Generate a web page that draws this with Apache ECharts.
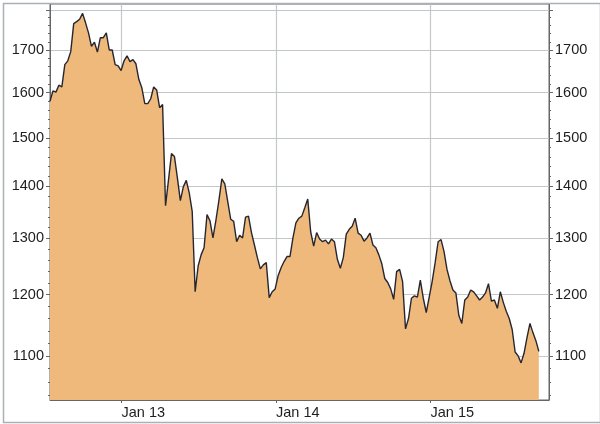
<!DOCTYPE html>
<html>
<head>
<meta charset="utf-8">
<script src="https://cdn.jsdelivr.net/npm/echarts@6/dist/echarts.min.js"></script>
<style>
html,body{margin:0;padding:0;background:#fff;}
#chart{width:600px;height:424px;}
</style>
</head>
<body>
<div id="chart"></div>
<script>
// Weekly closing values, first week starting 2012-07-16
const startDate = [2012, 6, 16];
const weekStepDays = 7;
const values = [
 1580,1604,1601,1617,1613,1665,1674,1696,1765,1770,
 1776,1791,1767,1742,1709,1719,1695,1730,1730,1742,
 1700,1700,1665,1662,1651,1674,1686,1672,1677,1667,
 1630,1611,1575,1575,1586,1613,1606,1566,1573,1362,
 1413,1467,1461,1417,1372,1399,1412,1387,1351,1205,
 1250,1270,1283,1345,1333,1301,1334,1372,1415,1405,
 1370,1336,1332,1294,1306,1301,1340,1342,1311,1288,
 1265,1245,1252,1256,1195,1205,1210,1233,1247,1258,
 1267,1267,1301,1329,1338,1342,1358,1375,1312,1286,
 1311,1299,1294,1297,1290,1299,1294,1262,1246,1265,
 1308,1317,1323,1338,1310,1306,1295,1301,1310,1288,
 1283,1270,1254,1228,1221,1210,1192,1240,1244,1223,
 1143,1160,1194,1198,1196,1225,1194,1170,1196,1223,
 1256,1294,1298,1276,1244,1224,1208,1203,1165,1152,
 1191,1196,1208,1205,1198,1191,1196,1203,1219,1189,
 1191,1177,1205,1187,1172,1160,1142,1106,1100,1089,
 1104,1129,1152,1137,1124,1107
];
const xTickDates = [[2013,0,1],[2014,0,1],[2015,0,1]];
const xTickLabels = ['Jan 13','Jan 14','Jan 15'];
const xRange = [[2012,6,16],[2015,9,8]];
const yMajorTicks = [1100,1200,1300,1400,1500,1600,1700,1800];
const yLabelTicks = [1100,1200,1300,1400,1500,1600,1700];
const yMinorTicks = [1040,1060,1080,1120,1140,1160,1180,1220,1240,1260,1280,1320,1340,1360,1380,1420,1440,1460,1480,1520,1540,1560,1580,1620,1640,1660,1680,1720,1740,1760,1780];
const yRange = [1033, 1815];

const toTime = a => Date.UTC(a[0], a[1], a[2]);
const t0 = toTime(startDate);
const DAY = 86400000;
const seriesData = values.map((v, i) => [t0 + i * weekStepDays * DAY, v]);
const xTickTimes = xTickDates.map(toTime);

const gridColor = '#c3c7ca';
const axisColor = '#666';
const labelStyle = {fontFamily: 'Liberation Sans, Arial, sans-serif', fontSize: 14.5, color: '#1e1e1e'};

function yAxisBase(pos, major) {
  return {
    type: 'log', logBase: 10, position: pos, min: yRange[0], max: yRange[1],
    axisLine: {show: major, lineStyle: {color: axisColor, width: 1}},
    axisTick: {show: true, inside: false, length: major ? 4 : 2,
      customValues: major ? yMajorTicks : yMinorTicks,
      lineStyle: {color: axisColor, width: 1}},
    axisLabel: major ? Object.assign({show: true, margin: 6, customValues: yLabelTicks,
      formatter: v => String(Math.round(v))}, labelStyle) : {show: false},
    splitLine: {show: major && pos === 'left', lineStyle: {color: gridColor, width: 1.2}},
    minorTick: {show: false}, minorSplitLine: {show: false}
  };
}

const chart = echarts.init(document.getElementById('chart'), null, {renderer: 'canvas'});
chart.setOption({
  animation: false,
  backgroundColor: '#fff',
  grid: {left: 50, right: 51, top: 4, bottom: 24, show: true, borderColor: axisColor, borderWidth: 1, backgroundColor: 'transparent'},
  xAxis: {
    type: 'value', min: toTime(xRange[0]), max: toTime(xRange[1]),
    axisLine: {show: true, lineStyle: {color: axisColor}},
    axisTick: {show: true, length: 3, customValues: xTickTimes, lineStyle: {color: axisColor}},
    axisLabel: Object.assign({show: true, align: 'left', margin: 5, customValues: xTickTimes,
      formatter: v => { const k = xTickTimes.indexOf(v); return k >= 0 ? xTickLabels[k] : ''; }}, labelStyle),
    splitLine: {show: true, lineStyle: {color: gridColor, width: 1.2}},
    minorTick: {show: false}
  },
  yAxis: [yAxisBase('left', true), yAxisBase('right', true), yAxisBase('left', false), yAxisBase('right', false)],
  series: [{
    type: 'line', yAxisIndex: 0, data: seriesData, showSymbol: false, symbol: 'none',
    lineStyle: {color: '#262630', width: 1.4},
    areaStyle: {color: '#efb97b', opacity: 1, origin: 'start'}
  }],
  graphic: [{
    type: 'rect', left: 1, top: 1, silent: true, z: 100,
    shape: {width: 597, height: 419},
    style: {fill: 'none', stroke: '#aab0b4', lineWidth: 1.5}
  }]
});
</script>
</body>
</html>
